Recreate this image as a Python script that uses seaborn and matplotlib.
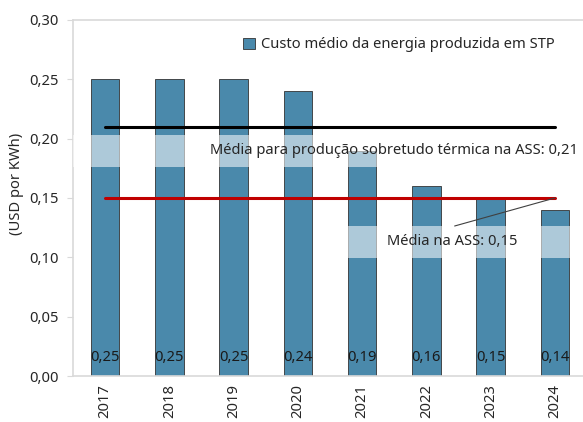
import matplotlib
matplotlib.use("Agg")
import matplotlib.pyplot as plt
import matplotlib.ticker as mticker
from matplotlib.patches import Patch
import pandas as pd
import seaborn as sns

# Data
years = ['2017', '2018', '2019', '2020', '2021', '2022', '2023', '2024']
custo = [0.25, 0.25, 0.25, 0.24, 0.19, 0.16, 0.15, 0.14]
media_termica = 0.21
media_ass = 0.15

legend_label = "Custo médio da energia produzida em STP"
label_termica = "Média para produção sobretudo térmica na ASS: 0,21"
label_ass = "Média na ASS: 0,15"

df = pd.DataFrame({'ano': years, 'custo': custo})

sns.set_style("white")
plt.rcParams['font.family'] = ['Noto Sans', 'DejaVu Sans']

bar_color = '#4a89ab'
grey = '#d9d9d9'
fs = 10.6

fig = plt.figure(figsize=(5.83, 4.22), dpi=100)
ax = fig.add_axes([73 / 583, 46 / 422, 514 / 583, 356 / 422])

sns.barplot(data=df, x='ano', y='custo', color=bar_color, width=0.44,
            edgecolor='#333333', linewidth=0.6, saturation=1, ax=ax)

# average lines
n = len(years)
ax.plot([0, n - 1], [media_termica, media_termica], color='black', lw=2.2, zorder=4)
ax.plot([0, n - 1], [media_ass, media_ass], color='#c00000', lw=2.2, zorder=4)

# light label boxes over the bars
ax.fill_between([-0.5, n], 0.1765, 0.2035, color='white', alpha=0.55, lw=0, zorder=3)
ax.fill_between([3.62, n], 0.0995, 0.1265, color='white', alpha=0.55, lw=0, zorder=3)

ax.text(1.63, 0.19, label_termica, fontsize=fs, va='center', ha='left', zorder=5)
ax.text(4.39, 0.113, label_ass, fontsize=fs, va='center', ha='left', zorder=5)
ax.plot([5.44, n - 1], [0.1264, media_ass], color='#404040', lw=0.8, zorder=5)

# values at the bottom of the bars
for i, v in enumerate(custo):
    ax.text(i, 0.016, f"{v:.2f}".replace('.', ','), ha='center', va='center',
            fontsize=fs, color='#1a1a1a', zorder=5)

ax.set_ylim(0, 0.30)
ax.set_xlim(-0.5, 7.5)
ax.yaxis.set_major_locator(mticker.MultipleLocator(0.05))
ax.yaxis.set_major_formatter(mticker.FuncFormatter(lambda v, p: f"{v:.2f}".replace('.', ',')))
ax.set_xlabel('')
ax.set_ylabel('(USD por KWh)', fontsize=fs)
ax.yaxis.set_label_coords(-0.095, 0.54)

ax.tick_params(axis='x', which='major', length=0, labelrotation=90, labelsize=fs, pad=6)
ax.set_xticks(range(n), years)
ax.set_xticks([i + 0.5 for i in range(n - 1)], minor=True)
ax.tick_params(axis='x', which='minor', direction='in', length=5, color=grey, width=1)
ax.tick_params(axis='y', direction='out', length=4, color=grey, labelsize=fs, left=True, pad=6)

for s in ['left', 'top', 'bottom']:
    ax.spines[s].set_color(grey)
    ax.spines[s].set_linewidth(1.2)
ax.spines['right'].set_visible(False)

handle = Patch(facecolor=bar_color, edgecolor='#333333', linewidth=0.6)
ax.legend([handle], [legend_label], loc='center left', bbox_to_anchor=(236 / 583, 1 - 45 / 422),
          bbox_transform=fig.transFigure, frameon=False, fontsize=fs,
          handlelength=0.8, handleheight=0.8, handletextpad=0.4, borderpad=0)

fig.savefig("out.png", dpi=100)
